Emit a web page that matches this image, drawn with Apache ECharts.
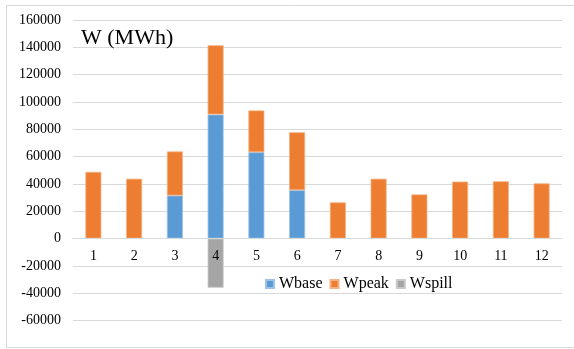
<!DOCTYPE html>
<html>
<head>
<meta charset="utf-8">
<script src="https://cdn.jsdelivr.net/npm/echarts@6/dist/echarts.min.js"></script>
<style>
  html, body { margin: 0; padding: 0; background: #fff; }
  #chart { width: 574px; height: 349px; }
</style>
</head>
<body>
<div id="chart"></div>
<script>
// Monthly energy volumes (MWh)
const months = ['1', '2', '3', '4', '5', '6', '7', '8', '9', '10', '11', '12'];
const wBase  = [null, null, 31500, 90800, 63200, 35400, null, null, null, null, null, null];
const wPeak  = [48800, 43800, 32300, 50700, 30600, 42400, 26500, 43800, 32300, 41700, 41900, 40400];
const wSpill = [null, null, null, -36000, null, null, null, null, null, null, null, null];

const serif = "'Liberation Serif', 'Times New Roman', serif";
const gridColor = '#d9d9d9';

const chart = echarts.init(document.getElementById('chart'), null, { renderer: 'canvas' });

function barSeries(name, data, color, edge) {
  return {
    name: name,
    type: 'bar',
    stack: 'w',
    data: data,
    barWidth: 16,
    xAxisIndex: 0,
    yAxisIndex: 0,
    itemStyle: { color: color, borderColor: edge, borderWidth: 0.8 },
    emphasis: { disabled: true }
  };
}

chart.setOption({
  animation: false,
  backgroundColor: '#fff',
  textStyle: { fontFamily: serif },
  graphic: [
    {
      type: 'rect',
      shape: { x: 6.5, y: 5.5, width: 580, height: 342 },
      style: { fill: 'none', stroke: gridColor, lineWidth: 1 },
      silent: true,
      z: -10
    },
    {
      type: 'text',
      left: 81,
      top: 27,
      style: { text: 'W (MWh)', font: "22px 'Liberation Serif', 'Times New Roman', serif", fill: '#000' },
      z: 10
    }
  ],
  // full plot area, plus an upper band (0 .. max) whose bottom edge carries the month labels
  grid: [
    { left: 73, right: 12, top: 20, bottom: 28.5, containLabel: false },
    { left: 73, right: 12, top: 20, bottom: 110.5, containLabel: false }
  ],
  legend: {
    data: ['Wbase', 'Wpeak', 'Wspill'],
    left: 265,
    top: 276,
    padding: 0,
    icon: 'rect',
    itemWidth: 8,
    itemHeight: 8,
    itemGap: 7,
    textStyle: { fontFamily: serif, fontSize: 16, color: '#000' },
    selectedMode: false
  },
  xAxis: [
    {
      type: 'category',
      gridIndex: 0,
      data: months,
      axisLine: { show: false },
      axisTick: { show: false },
      axisLabel: { show: false }
    },
    {
      type: 'category',
      gridIndex: 1,
      data: months,
      z: 10,
      axisLine: { show: true, onZero: false, lineStyle: { color: gridColor, width: 1 } },
      axisTick: { show: false },
      axisLabel: { fontFamily: serif, fontSize: 14, color: '#000', margin: 11 }
    }
  ],
  yAxis: [
    {
      type: 'value',
      gridIndex: 0,
      min: -60000,
      max: 160000,
      interval: 20000,
      axisLine: { show: false },
      axisTick: { show: false },
      axisLabel: {
        fontFamily: serif, fontSize: 14, color: '#000', margin: 12,
        formatter: function (v) { return String(v); }
      },
      splitLine: { lineStyle: { color: gridColor, width: 1 } }
    },
    {
      type: 'value',
      gridIndex: 1,
      min: 0,
      max: 160000,
      interval: 20000,
      show: false
    }
  ],
  series: [
    barSeries('Wbase', wBase, '#5b9bd5', '#9dc3e6'),
    barSeries('Wpeak', wPeak, '#ed7d31', '#f4b183'),
    barSeries('Wspill', wSpill, '#a5a5a5', '#c9c9c9')
  ]
});
</script>
</body>
</html>
